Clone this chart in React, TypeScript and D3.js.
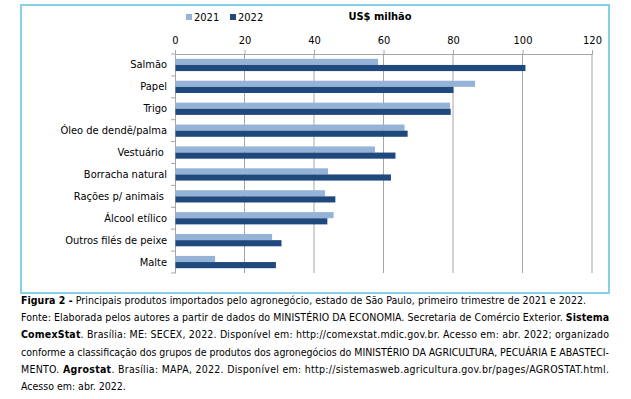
import React, { useEffect, useRef } from "react";
import * as d3 from "d3";

const categories = [
  "Salmão",
  "Papel",
  "Trigo",
  "Óleo de dendê/palma",
  "Vestuário ",
  "Borracha natural",
  "Rações p/ animais ",
  "Álcool etílico",
  "Outros filés de peixe",
  "Malte",
];
const values2021 = [58.3, 86.2, 79.0, 65.9, 57.4, 43.9, 43.0, 45.5, 27.8, 11.4];
const values2022 = [100.7, 80.0, 79.2, 66.8, 63.3, 62.0, 46.0, 43.7, 30.5, 28.9];
const seriesNames = ["2021", "2022"];
const xTicks = [0, 20, 40, 60, 80, 100, 120];

const captionLines = [
  [["Figura 2 -", true], [" Principais produtos importados pelo agronegócio, estado de São Paulo, primeiro trimestre de 2021 e 2022.", false]],
  [["Fonte: Elaborada pelos autores a partir de dados do MINISTÉRIO DA ECONOMIA. Secretaria de Comércio Exterior. ", false], ["Sistema", true]],
  [["ComexStat", true], [". Brasília: ME: SECEX, 2022. Disponível em: http://comexstat.mdic.gov.br. Acesso em: abr. 2022; organizado", false]],
  [["conforme a classificação dos grupos de produtos dos agronegócios do MINISTÉRIO DA AGRICULTURA, PECUÁRIA E ABASTECI-", false]],
  [["MENTO. ", false], ["Agrostat", true], [". Brasília: MAPA, 2022. Disponível em: http://sistemasweb.agricultura.gov.br/pages/AGROSTAT.html.", false]],
  [["Acesso em: abr. 2022.", false]],
];

const FONT = "'DejaVu Sans Condensed', 'DejaVu Sans', sans-serif";

export default function App() {
  const ref = useRef<SVGSVGElement>(null);

  useEffect(() => {
    document.body.style.margin = "0";
    const svg = d3.select(ref.current);
    svg.selectAll("*").remove();

    const colors = ["#95B3D7", "#1F497D"];

    // moldura
    svg
      .append("rect")
      .attr("x", 21)
      .attr("y", 5)
      .attr("width", 588)
      .attr("height", 288)
      .attr("fill", "none")
      .attr("stroke", "#86CFE6")
      .attr("stroke-width", 2);

    const margin = { top: 54, left: 175, right: 592, bottom: 273 };

    const x = d3.scaleLinear().domain([0, 120]).range([margin.left, margin.right]);
    const y = d3
      .scaleBand()
      .domain(categories)
      .range([margin.top, margin.bottom]);
    const inner = y.bandwidth() * 0.56;
    const ys = d3
      .scaleBand()
      .domain(seriesNames)
      .range([(y.bandwidth() - inner) / 2, (y.bandwidth() + inner) / 2]);

    // grade
    svg
      .append("g")
      .selectAll("line")
      .data(xTicks.slice(1))
      .enter()
      .append("line")
      .attr("x1", (d) => x(d))
      .attr("x2", (d) => x(d))
      .attr("y1", margin.top)
      .attr("y2", margin.bottom)
      .attr("stroke", "#A6A6A6")
      .attr("stroke-width", 1);

    // eixo superior
    const ax = svg
      .append("g")
      .attr("transform", `translate(0,${margin.top})`)
      .call(d3.axisTop(x).tickValues(xTicks).tickSize(4).tickPadding(6));
    ax.select(".domain").attr("stroke", "#A6A6A6");
    ax.selectAll(".tick line").attr("stroke", "#A6A6A6");
    ax.selectAll("text").attr("font-family", FONT).attr("font-size", 11).attr("fill", "#000");

    // eixo esquerdo
    const ay = svg
      .append("g")
      .attr("transform", `translate(${margin.left},0)`)
      .call(d3.axisLeft(y).tickSize(0).tickPadding(8));
    ay.select(".domain").attr("stroke", "#A6A6A6");
    ay.selectAll("text")
      .attr("font-family", FONT)
      .attr("font-size", 11)
      .attr("fill", "#000")
      .style("white-space", "pre");
    svg
      .append("g")
      .selectAll("line")
      .data(d3.range(categories.length + 1))
      .enter()
      .append("line")
      .attr("x1", margin.left - 4)
      .attr("x2", margin.left)
      .attr("y1", (i) => margin.top + i * y.step())
      .attr("y2", (i) => margin.top + i * y.step())
      .attr("stroke", "#A6A6A6");

    // barras
    const series = [values2021, values2022];
    series.forEach((vals, s) => {
      svg
        .append("g")
        .selectAll("rect")
        .data(vals)
        .enter()
        .append("rect")
        .attr("x", x(0) + 0.5)
        .attr("y", (d, i) => (y(categories[i]) as number) + (ys(seriesNames[s]) as number))
        .attr("width", (d) => x(d) - x(0))
        .attr("height", ys.bandwidth())
        .attr("fill", colors[s]);
    });

    // legenda
    const lg = svg.append("g").attr("font-family", FONT).attr("font-size", 11);
    [186, 230].forEach((lx, s) => {
      lg.append("rect")
        .attr("x", lx)
        .attr("y", 14)
        .attr("width", 6)
        .attr("height", 6)
        .attr("fill", colors[s]);
      lg.append("text")
        .attr("x", lx + 8)
        .attr("y", 21)
        .text(seriesNames[s]);
    });
    svg
      .append("text")
      .attr("x", 380)
      .attr("y", 20)
      .attr("text-anchor", "middle")
      .attr("font-family", FONT)
      .attr("font-size", 11)
      .attr("font-weight", "bold")
      .text("US$ milhão");

    // legenda da figura
    const cap = svg.append("g").attr("font-family", FONT).attr("font-size", 10.5).attr("fill", "#000");
    const widths = [565, 588, 588, 588, 588, 0];
    captionLines.forEach((parts, i) => {
      const t = cap
        .append("text")
        .attr("x", 21)
        .attr("y", 304 + i * 17.2)
        .style("white-space", "pre");
      if (widths[i]) t.attr("textLength", widths[i]).attr("lengthAdjust", "spacing");
      parts.forEach(([txt, bold]) => {
        t.append("tspan")
          .attr("font-weight", bold ? "bold" : "normal")
          .text(txt as string);
      });
    });
  }, []);

  return <svg ref={ref} width={631} height={399} style={{ display: "block", background: "#fff" }} />;
}
